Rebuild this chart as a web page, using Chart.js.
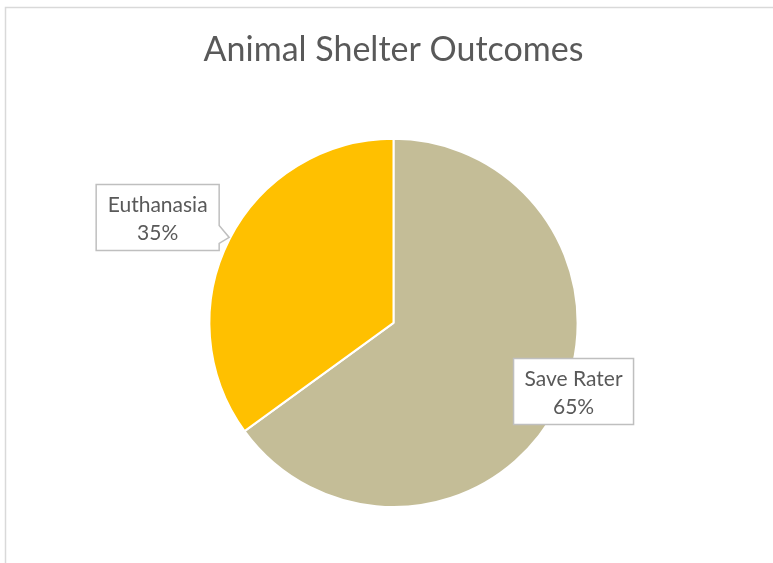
<!DOCTYPE html>
<html lang="en">
<head>
  <meta charset="UTF-8" />
  <title>Animal Shelter Outcomes</title>
  <script src="https://cdn.jsdelivr.net/npm/chart.js"></script>
  <style>
    body { margin: 0; background: #fff; }
    #wrap { width: 773px; height: 563px; }
  </style>
</head>
<body>
  <div id="wrap"><canvas id="pie" width="773" height="563"></canvas></div>
<script>
  // donnees du graphique
  const categories = ['Save Rater', 'Euthanasia'];
  const percentages = [65, 35];
  const sliceColors = ['#C4BD97', '#FFC000'];

  const FONT = 'Lato, "Open Sans", sans-serif';
  const GREY = '#595959';

  // cadre gris autour du graphique (comme dans Excel)
  const frame = {
    id: 'frame',
    beforeDraw(chart) {
      const c = chart.ctx;
      c.save();
      c.strokeStyle = '#d9d9d9';
      c.lineWidth = 1.5;
      c.strokeRect(5.5, 7.5, 900, 700);
      c.restore();
    }
  };

  // etiquettes en bulle (callout)
  const callouts = {
    id: 'callouts',
    afterDatasetsDraw(chart, args, opts) {
      const c = chart.ctx;
      const meta = chart.getDatasetMeta(0);
      const total = percentages.reduce((a, b) => a + b, 0);
      meta.data.forEach((arc, i) => {
        const p = opts.places[i];
        const r = arc.outerRadius;
        const cx = arc.x + p.dx * r, cy = arc.y + p.dy * r;
        const x0 = cx - p.w / 2, y0 = cy - p.h / 2, x1 = cx + p.w / 2, y1 = cy + p.h / 2;
        c.save();
        c.fillStyle = '#fff';
        c.strokeStyle = '#bfbfbf';
        c.lineWidth = 1.5;
        c.beginPath();
        c.moveTo(x0, y0);
        c.lineTo(x1, y0);
        if (p.tail) {
          c.lineTo(x1, y1 - 25);
          c.lineTo(x1 + 10, y1 - 13);
          c.lineTo(x1, y1 - 7);
        }
        c.lineTo(x1, y1);
        c.lineTo(x0, y1);
        c.closePath();
        c.fill();
        c.stroke();
        c.fillStyle = GREY;
        c.font = '21px ' + FONT;
        c.textAlign = 'center';
        c.textBaseline = 'middle';
        c.fillText(categories[i], cx, cy - 12);
        c.fillText(Math.round(percentages[i] / total * 100) + '%', cx, cy + 16);
        c.restore();
      });
    }
  };

  new Chart(document.getElementById('pie'), {
    type: 'pie',
    data: {
      labels: categories,
      datasets: [{
        data: percentages,
        backgroundColor: sliceColors,
        borderColor: '#fff',
        borderWidth: 2
      }]
    },
    options: {
      responsive: false,
      animation: false,
      layout: { padding: { top: 0, bottom: 55, left: 20, right: 6 } },
      plugins: {
        legend: { display: false },
        tooltip: { enabled: false },
        title: {
          display: true,
          text: 'Animal Shelter Outcomes',
          color: GREY,
          font: { family: FONT, size: 34, weight: 'normal', lineHeight: 1.2 },
          padding: { top: 30, bottom: 67 }
        },
        callouts: {
          places: [
            { dx: 0.978, dy: 0.373, w: 120, h: 66, tail: false },
            { dx: -1.281, dy: -0.573, w: 123, h: 66, tail: true }
          ]
        }
      }
    },
    plugins: [frame, callouts]
  });
</script>
</body>
</html>
